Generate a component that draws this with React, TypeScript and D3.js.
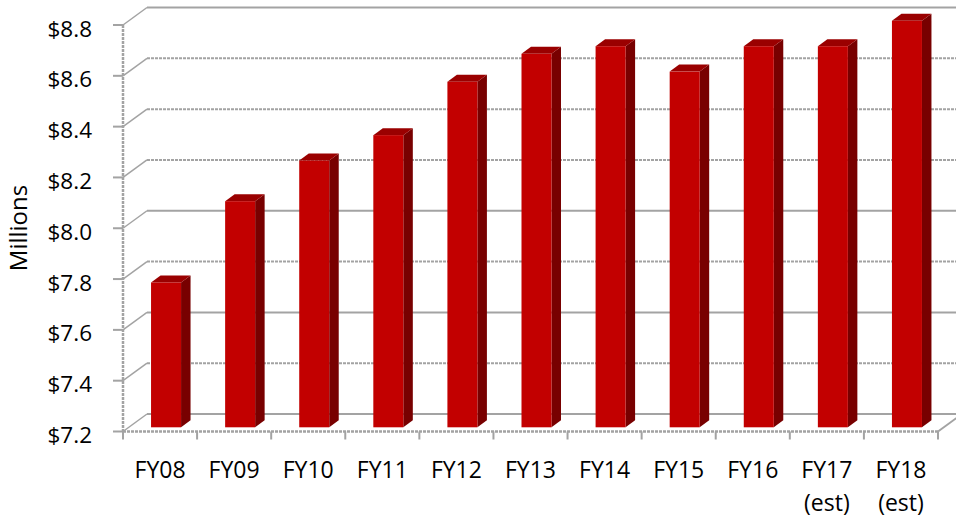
import React from "react";
import * as d3 from "d3";

// Annual funding, millions of dollars
const categories = ["FY08", "FY09", "FY10", "FY11", "FY12", "FY13", "FY14", "FY15", "FY16", "FY17", "FY18"];
const subLabels = ["", "", "", "", "", "", "", "", "", "(est)", "(est)"];
const values = [7.77, 8.09, 8.25, 8.35, 8.56, 8.67, 8.7, 8.6, 8.7, 8.7, 8.8];
const yTicks = [7.2, 7.4, 7.6, 7.8, 8.0, 8.2, 8.4, 8.6, 8.8];
const texturedTicks = [7.4, 7.8, 8.2, 8.4, 8.6];

const W = 956;
const H = 521;
const FONT = "'Open Sans', 'Noto Sans', sans-serif";

// oblique 3D projection: full wall depth and the slab the columns occupy
const DEPTH = { dx: 24, dy: -17.5 };
const BAR_FRONT = { dx: 6, dy: -4.2 };
const BAR_DEPTH = { dx: 9.5, dy: -7 };

const X0 = 123;
const X1 = 938;
const Y_BOTTOM = 431.5;
const Y_TOP = 25;

const GRID = "#a3a3a3";

export default function App() {
  const x = d3
    .scaleBand<string>()
    .domain(categories)
    .range([X0, X1])
    .paddingInner(0.595)
    .paddingOuter(0.2975);
  const step = x.step();
  const y = d3.scaleLinear().domain([7.2, 8.8]).range([Y_BOTTOM, Y_TOP]);
  const fmt = (v: number) => "$" + d3.format(".1f")(v);

  const bw = x.bandwidth();

  return (
    <svg
      width={W}
      height={H}
      style={{ position: "absolute", left: 0, top: 0, background: "#fff" }}
    >
      {/* side wall diagonals and back wall gridlines */}
      <g fill="none" stroke={GRID} strokeWidth={2}>
        {yTicks.map((t) => {
          const yy = y(t);
          const textured = texturedTicks.includes(t);
          return (
            <g key={t}>
              <line x1={X0} y1={yy} x2={X0 + DEPTH.dx} y2={yy + DEPTH.dy} strokeWidth={1.5} />
              <line
                x1={X0 + DEPTH.dx}
                y1={yy + DEPTH.dy}
                x2={W}
                y2={yy + DEPTH.dy}
                strokeDasharray={textured ? "3 1" : undefined}
              />
            </g>
          );
        })}
        {/* floor right edge */}
        <line x1={X1} y1={Y_BOTTOM} x2={X1 + DEPTH.dx} y2={Y_BOTTOM + DEPTH.dy} />
      </g>

      {/* columns */}
      <g>
        {values.map((v, i) => {
          const c = categories[i];
          const bx = (x(c) as number) + BAR_FRONT.dx;
          const yt = y(v) + BAR_FRONT.dy;
          const yb = y(7.2) + BAR_FRONT.dy;
          const top = [
            [bx, yt],
            [bx + bw, yt],
            [bx + bw + BAR_DEPTH.dx, yt + BAR_DEPTH.dy],
            [bx + BAR_DEPTH.dx, yt + BAR_DEPTH.dy],
          ];
          const side = [
            [bx + bw, yt],
            [bx + bw + BAR_DEPTH.dx, yt + BAR_DEPTH.dy],
            [bx + bw + BAR_DEPTH.dx, yb + BAR_DEPTH.dy],
            [bx + bw, yb],
          ];
          const pts = (p: number[][]) => p.map((q) => q.join(",")).join(" ");
          return (
            <g key={c}>
              <polygon points={pts(side)} fill="#780000" />
              <polygon points={pts(top)} fill="#9a0000" />
              <rect x={bx} y={yt} width={bw} height={yb - yt} fill="#c20000" />
            </g>
          );
        })}
      </g>

      {/* value axis */}
      <g stroke={GRID} strokeWidth={2.5}>
        <line x1={X0} y1={Y_TOP} x2={X0} y2={Y_BOTTOM} strokeDasharray="3 1" />
        {yTicks.map((t) => (
          <line key={t} x1={X0 - 10} y1={y(t)} x2={X0} y2={y(t)} strokeWidth={2} />
        ))}
      </g>
      <g fontFamily={FONT} fontSize={22.5} fill="#000" textAnchor="end">
        {yTicks.map((t) => (
          <text key={t} x={92} y={y(t) + 11.5}>
            {fmt(t)}
          </text>
        ))}
      </g>

      {/* category axis */}
      <g stroke={GRID} strokeWidth={2.5}>
        <line x1={X0} y1={Y_BOTTOM} x2={X1} y2={Y_BOTTOM} strokeDasharray="3 1" />
        {d3.range(categories.length + 1).map((k) => (
          <line key={k} x1={X0 + k * step} y1={Y_BOTTOM} x2={X0 + k * step} y2={Y_BOTTOM + 8} strokeWidth={2} />
        ))}
      </g>
      <g fontFamily={FONT} fontSize={23} fill="#000" textAnchor="middle">
        {categories.map((c, i) => {
          const cx = (x(c) as number) + bw / 2;
          return (
            <g key={c}>
              <text x={cx} y={478}>
                {c}
              </text>
              {subLabels[i] && (
                <text x={cx} y={511}>
                  {subLabels[i]}
                </text>
              )}
            </g>
          );
        })}
      </g>

      <text
        transform="translate(27,228) rotate(-90)"
        textAnchor="middle"
        fontFamily={FONT}
        fontSize={24}
        fill="#000"
      >
        Millions
      </text>
    </svg>
  );
}
